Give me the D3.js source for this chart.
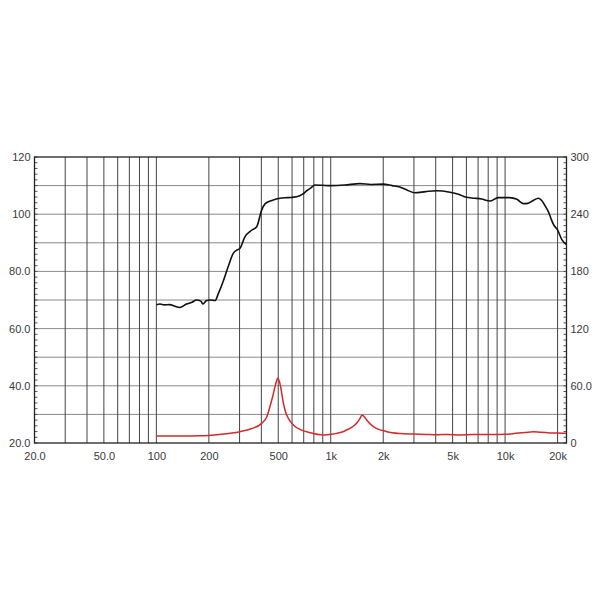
<!DOCTYPE html>
<html><head><meta charset="utf-8">
<script src="https://cdn.jsdelivr.net/npm/d3@7"></script>
<style>body{margin:0;background:#fff}svg{display:block}</style>
</head><body>
<svg id="c" width="600" height="600"></svg>
<script>
// Frequency axis ticks
const freqLabelTicks = [20, 50, 100, 200, 500, 1000, 2000, 5000, 10000, 20000];
const freqLabels = ["20.0", "50.0", "100", "200", "500", "1k", "2k", "5k", "10k", "20k"];
const freqGrid = [30, 40, 50, 60, 70, 80, 90, 100, 200, 300, 400, 500, 600, 700, 800, 900,
  1000, 2000, 3000, 4000, 5000, 6000, 7000, 8000, 9000, 10000, 20000];
// Left axis (SPL dB)
const splTicks = [20, 40, 60, 80, 100, 120];
const splLabels = ["20.0", "40.0", "60.0", "80.0", "100", "120"];
const splGrid = [30, 40, 50, 60, 70, 80, 90, 100, 110];
// Right axis (impedance)
const impTicks = [0, 60, 120, 180, 240, 300];
const impLabels = ["0", "60.0", "120", "180", "240", "300"];

// SPL curve (black)
const splFreq = [100, 105, 111, 119, 128, 136, 149, 160, 170, 180, 185, 194, 205, 217, 227, 240, 258, 276, 290, 301, 322, 350, 376, 402, 420, 460, 512, 570, 637, 690, 728, 770, 811, 900, 1000, 1200, 1470, 1700, 2000, 2250, 2490, 2750, 3040, 3500, 4050, 4830, 5400, 6000, 6700, 7330, 8180, 9130, 10600, 11700, 12700, 13500, 14500, 15500, 16400, 17000, 17700, 18300, 18900, 20000, 21200, 22400];
const splDb = [68.3, 68.6, 68.3, 68.4, 67.8, 67.4, 68.6, 69.2, 70.0, 69.6, 68.6, 69.8, 70.0, 69.8, 72.3, 76.0, 81.6, 86.3, 87.5, 88.0, 92.1, 94.3, 95.6, 101.5, 103.6, 104.8, 105.6, 105.8, 106.1, 107.0, 108.2, 109.2, 110.2, 110.1, 110.0, 110.2, 110.7, 110.4, 110.5, 110.0, 109.5, 108.4, 107.5, 107.9, 108.2, 107.7, 107.0, 105.9, 105.6, 105.3, 104.6, 105.8, 105.8, 105.2, 103.7, 103.8, 104.8, 105.6, 104.4, 102.8, 100.9, 98.6, 96.5, 94.5, 91.0, 89.5];

// Impedance curve (red)
const impFreq = [100, 140, 178, 230, 301, 350, 402, 430, 448, 465, 479, 490, 496, 503, 516, 530, 546, 575, 610, 680, 760, 906, 1033, 1150, 1233, 1330, 1407, 1470, 1510, 1560, 1607, 1755, 2100, 2500, 2970, 3500, 4000, 4700, 5500, 6500, 8000, 10000, 11500, 13000, 14500, 16000, 18000, 20000, 22400];
const impOhm = [7.3, 7.4, 7.6, 9.0, 11.9, 15.0, 20.6, 27.5, 38.1, 49.0, 59.1, 65.5, 67.9, 66.5, 59.1, 46.0, 34.6, 25.0, 18.9, 13.5, 10.8, 8.4, 9.4, 11.2, 13.6, 16.8, 20.6, 25.5, 29.4, 27.5, 24.1, 17.1, 11.9, 10.0, 9.4, 9.0, 8.6, 9.0, 8.5, 8.8, 8.9, 9.2, 10.1, 11.0, 11.9, 11.2, 10.6, 10.4, 10.2];

const svg = d3.select("#c");
const L = 34.5, R = 566.5, T = 157, B = 443;
const x = d3.scaleLog().domain([20, 22500]).range([L, R]);
const y = d3.scaleLinear().domain([20, 120]).range([B, T]);
const y2 = d3.scaleLinear().domain([0, 300]).range([B, T]);
const font = "Liberation Sans, Arial, sans-serif";
const txt = "#3a3a3a";

// horizontal grid
svg.append("g").selectAll("line").data(splGrid).join("line")
  .attr("x1", L).attr("x2", R).attr("y1", d => y(d)).attr("y2", d => y(d))
  .attr("stroke", "#8a8a8a").attr("stroke-width", 1);
// vertical grid
svg.append("g").selectAll("line").data(freqGrid).join("line")
  .attr("x1", d => x(d)).attr("x2", d => x(d)).attr("y1", T).attr("y2", B)
  .attr("stroke", "#444").attr("stroke-width", 1);

// minor ticks left (every 2 dB) and right (every 6)
const minorL = d3.range(20, 121, 2);
svg.append("g").selectAll("line").data(minorL).join("line")
  .attr("x1", L).attr("x2", L + 3).attr("y1", d => y(d)).attr("y2", d => y(d))
  .attr("stroke", "#555").attr("stroke-width", 1);
const minorR = d3.range(0, 301, 6);
svg.append("g").selectAll("line").data(minorR).join("line")
  .attr("x1", R - 3).attr("x2", R).attr("y1", d => y2(d)).attr("y2", d => y2(d))
  .attr("stroke", "#555").attr("stroke-width", 1);

// frame
svg.append("rect").attr("x", L).attr("y", T).attr("width", R - L).attr("height", B - T)
  .attr("fill", "none").attr("stroke", "#222").attr("stroke-width", 1.3);

// axes labels via d3 axes
const ax = svg.append("g").attr("transform", `translate(0,${B})`)
  .call(d3.axisBottom(x).tickValues(freqLabelTicks).tickSize(0).tickPadding(9)
    .tickFormat((d, i) => freqLabels[i]));
ax.select(".domain").remove();
const ayl = svg.append("g").attr("transform", `translate(${L},0)`)
  .call(d3.axisLeft(y).tickValues(splTicks).tickSize(0).tickPadding(4)
    .tickFormat((d, i) => splLabels[i]));
ayl.select(".domain").remove();
const ayr = svg.append("g").attr("transform", `translate(${R},0)`)
  .call(d3.axisRight(y2).tickValues(impTicks).tickSize(0).tickPadding(4)
    .tickFormat((d, i) => impLabels[i]));
ayr.select(".domain").remove();
svg.selectAll(".tick text").attr("font-family", font).attr("font-size", 11).attr("fill", txt);

// curves
const splLine = d3.line().x((d, i) => x(splFreq[i])).y(d => y(d)).curve(d3.curveMonotoneX);
svg.append("path").datum(splDb).attr("d", splLine)
  .attr("fill", "none").attr("stroke", "#111").attr("stroke-width", 1.6);
const impLine = d3.line().x((d, i) => x(impFreq[i])).y(d => y2(d)).curve(d3.curveMonotoneX);
svg.append("path").datum(impOhm).attr("d", impLine)
  .attr("fill", "none").attr("stroke", "#d42a2a").attr("stroke-width", 1.5);
</script>
</body></html>
